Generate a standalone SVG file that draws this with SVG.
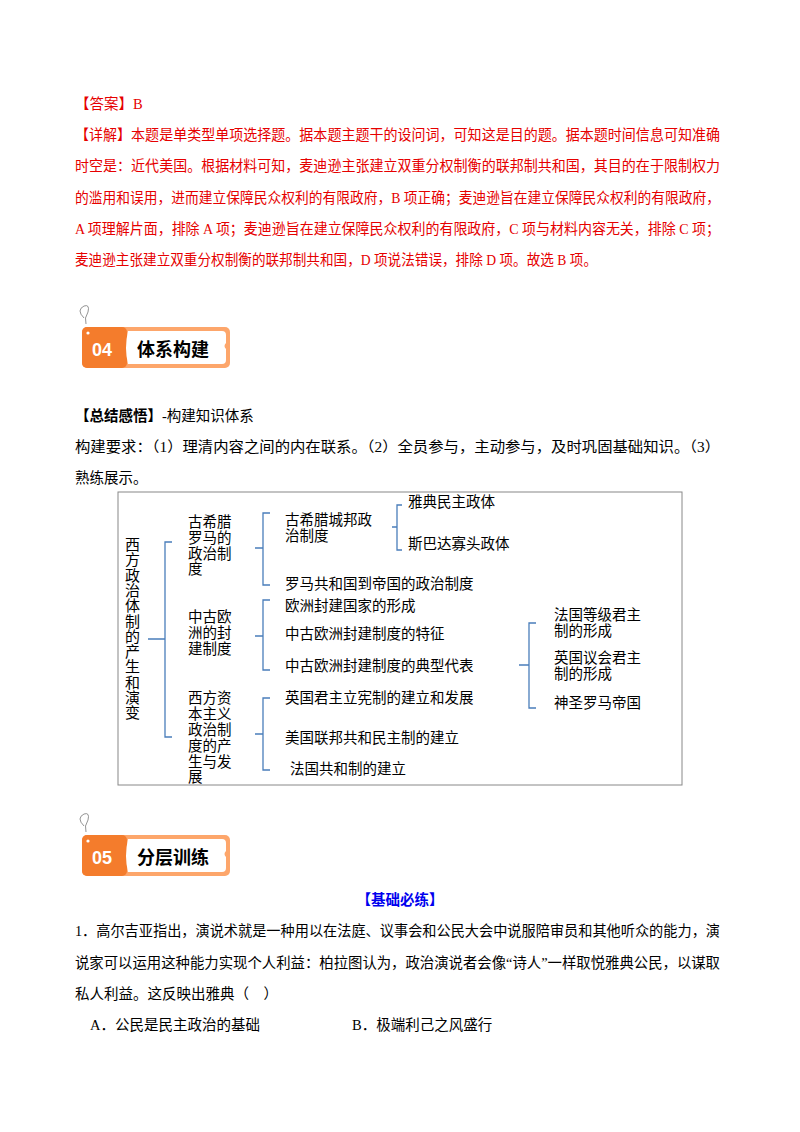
<svg xmlns="http://www.w3.org/2000/svg" width="800" height="1132" viewBox="0 0 800 1132">
<style>
text{font-family:"Liberation Serif","Noto Sans CJK SC",serif;font-size:14.5px;fill:#000}
.r{fill:#e60000}
.b{font-weight:bold}
.d{font-size:15px}
.br{fill:none;stroke:#4a7ebb;stroke-width:1.3}
</style>
<rect width="800" height="1132" fill="#fff"/>
<g id="answer">
<text class="r" x="75" y="109">【答案】B</text>
<text class="r" x="75" y="140" textLength="645" lengthAdjust="spacingAndGlyphs">【详解】本题是单类型单项选择题。据本题主题干的设问词，可知这是目的题。据本题时间信息可知准确</text>
<text class="r" x="75" y="171" textLength="645" lengthAdjust="spacingAndGlyphs">时空是：近代美国。根据材料可知，麦迪逊主张建立双重分权制衡的联邦制共和国，其目的在于限制权力</text>
<text class="r" x="75" y="203" textLength="645" lengthAdjust="spacingAndGlyphs">的滥用和误用，进而建立保障民众权利的有限政府，B 项正确；麦迪逊旨在建立保障民众权利的有限政府，</text>
<text class="r" x="75" y="234" textLength="645" lengthAdjust="spacingAndGlyphs">A 项理解片面，排除 A 项；麦迪逊旨在建立保障民众权利的有限政府，C 项与材料内容无关，排除 C 项；</text>
<text class="r" x="75" y="265" textLength="522" lengthAdjust="spacingAndGlyphs">麦迪逊主张建立双重分权制衡的联邦制共和国，D 项说法错误，排除 D 项。故选 B 项。</text>
</g>
<g id="banner04">
<path d="M84 318 q-8 -8 0 -12 q6 -2 4 6 q-4 6 -2 12" fill="none" stroke="#777" stroke-width="0.8"/>
<rect x="82" y="327" width="148" height="41" rx="5" fill="#fda66b"/>
<rect x="82" y="327" width="45" height="41" rx="5" fill="#f47c2c"/>
<path d="M128 331 H222 q4 0 4 4 v8 q-3 3 0 6 v11 q0 4 -4 4 H128 q-4 -16 0 -33z" fill="#fff"/>
<circle cx="88" cy="333" r="1.6" fill="#fff"/>
<text x="92" y="356" style="font-family:'Liberation Sans',sans-serif;font-weight:bold;font-size:18px;fill:#fff">04</text>
<text x="137" y="356" style="font-family:'Noto Sans CJK SC',sans-serif;font-weight:bold;font-size:18px">体系构建</text>
</g>
<g id="intro">
<text x="75" y="421"><tspan class="b">【总结感悟】</tspan>-构建知识体系</text>
<text x="75" y="452" textLength="645" lengthAdjust="spacingAndGlyphs">构建要求：（1）理清内容之间的内在联系。（2）全员参与，主动参与，及时巩固基础知识。（3）</text>
<text x="75" y="483">熟练展示。</text>
</g>
<rect x="118" y="492" width="564" height="293" fill="none" stroke="#888" stroke-width="1"/>
<g id="connectors">
<path class="br" d="M172 542 H165 V737 H172 M148 639 H165"/>
<path class="br" d="M270 513 H263 V585 H270 M255 548 H263"/>
<path class="br" d="M402 505 H397 V550 H402 M392 527 H397"/>
<path class="br" d="M270 600 H263 V670 H270 M255 636 H263"/>
<path class="br" d="M270 698 H263 V770 H270 M255 734 H263"/>
<path class="br" d="M536 623 H529 V708 H536 M519 665 H529"/>
</g>
<g id="root">
<text class="d" x="125" y="550">西</text><text class="d" x="125" y="565.3">方</text><text class="d" x="125" y="580.6">政</text><text class="d" x="125" y="595.9">治</text><text class="d" x="125" y="611.2">体</text><text class="d" x="125" y="626.5">制</text><text class="d" x="125" y="641.8">的</text><text class="d" x="125" y="657.1">产</text><text class="d" x="125" y="672.4">生</text><text class="d" x="125" y="687.7">和</text><text class="d" x="125" y="703">演</text><text class="d" x="125" y="718.3">变</text>
</g>
<g id="n1"><text x="188" y="527">古希腊</text><text x="188" y="543">罗马的</text><text x="188" y="559">政治制</text><text x="188" y="574">度</text></g>
<g id="n11"><text x="285" y="525">古希腊城邦政</text><text x="285" y="541">治制度</text></g>
<g id="n111"><text x="408" y="507">雅典民主政体</text></g>
<g id="n112"><text x="408" y="549">斯巴达寡头政体</text></g>
<g id="n12"><text x="285" y="589">罗马共和国到帝国的政治制度</text></g>
<g id="n2"><text x="188" y="622">中古欧</text><text x="188" y="638">洲的封</text><text x="188" y="654">建制度</text></g>
<g id="n21"><text x="285" y="611">欧洲封建国家的形成</text></g>
<g id="n22"><text x="285" y="639">中古欧洲封建制度的特征</text></g>
<g id="n23"><text x="285" y="671">中古欧洲封建制度的典型代表</text></g>
<g id="n231"><text x="554" y="620">法国等级君主</text><text x="554" y="636">制的形成</text></g>
<g id="n232"><text x="554" y="663">英国议会君主</text><text x="554" y="679">制的形成</text></g>
<g id="n233"><text x="554" y="708">神圣罗马帝国</text></g>
<g id="n3"><text x="188" y="703">西方资</text><text x="188" y="719">本主义</text><text x="188" y="735">政治制</text><text x="188" y="751">度的产</text><text x="188" y="767">生与发</text><text x="188" y="782">展</text></g>
<g id="n31"><text x="285" y="703">英国君主立宪制的建立和发展</text></g>
<g id="n32"><text x="285" y="743">美国联邦共和民主制的建立</text></g>
<g id="n33"><text x="290" y="774">法国共和制的建立</text></g>
<g id="banner05">
<path d="M84 826 q-8 -8 0 -12 q6 -2 4 6 q-4 6 -2 12" fill="none" stroke="#777" stroke-width="0.8"/>
<rect x="82" y="835" width="148" height="41" rx="5" fill="#fda66b"/>
<rect x="82" y="835" width="45" height="41" rx="5" fill="#f47c2c"/>
<path d="M128 839 H222 q4 0 4 4 v8 q-3 3 0 6 v11 q0 4 -4 4 H128 q-4 -16 0 -33z" fill="#fff"/>
<circle cx="88" cy="841" r="1.6" fill="#fff"/>
<text x="92" y="864" style="font-family:'Liberation Sans',sans-serif;font-weight:bold;font-size:18px;fill:#fff">05</text>
<text x="137" y="864" style="font-family:'Noto Sans CJK SC',sans-serif;font-weight:bold;font-size:18px">分层训练</text>
</g>
<g id="question">
<text x="400" y="905" text-anchor="middle" class="b" style="fill:#0000ee">【基础必练】</text>
<text x="75" y="936" textLength="645" lengthAdjust="spacingAndGlyphs">1．高尔吉亚指出，演说术就是一种用以在法庭、议事会和公民大会中说服陪审员和其他听众的能力，演</text>
<text x="75" y="968" textLength="645" lengthAdjust="spacingAndGlyphs">说家可以运用这种能力实现个人利益：柏拉图认为，政治演说者会像“诗人”一样取悦雅典公民，以谋取</text>
<text x="75" y="999">私人利益。这反映出雅典（　）</text>
<text x="90" y="1030">A．公民是民主政治的基础</text>
<text x="352" y="1030">B．极端利己之风盛行</text>
</g>
</svg>
